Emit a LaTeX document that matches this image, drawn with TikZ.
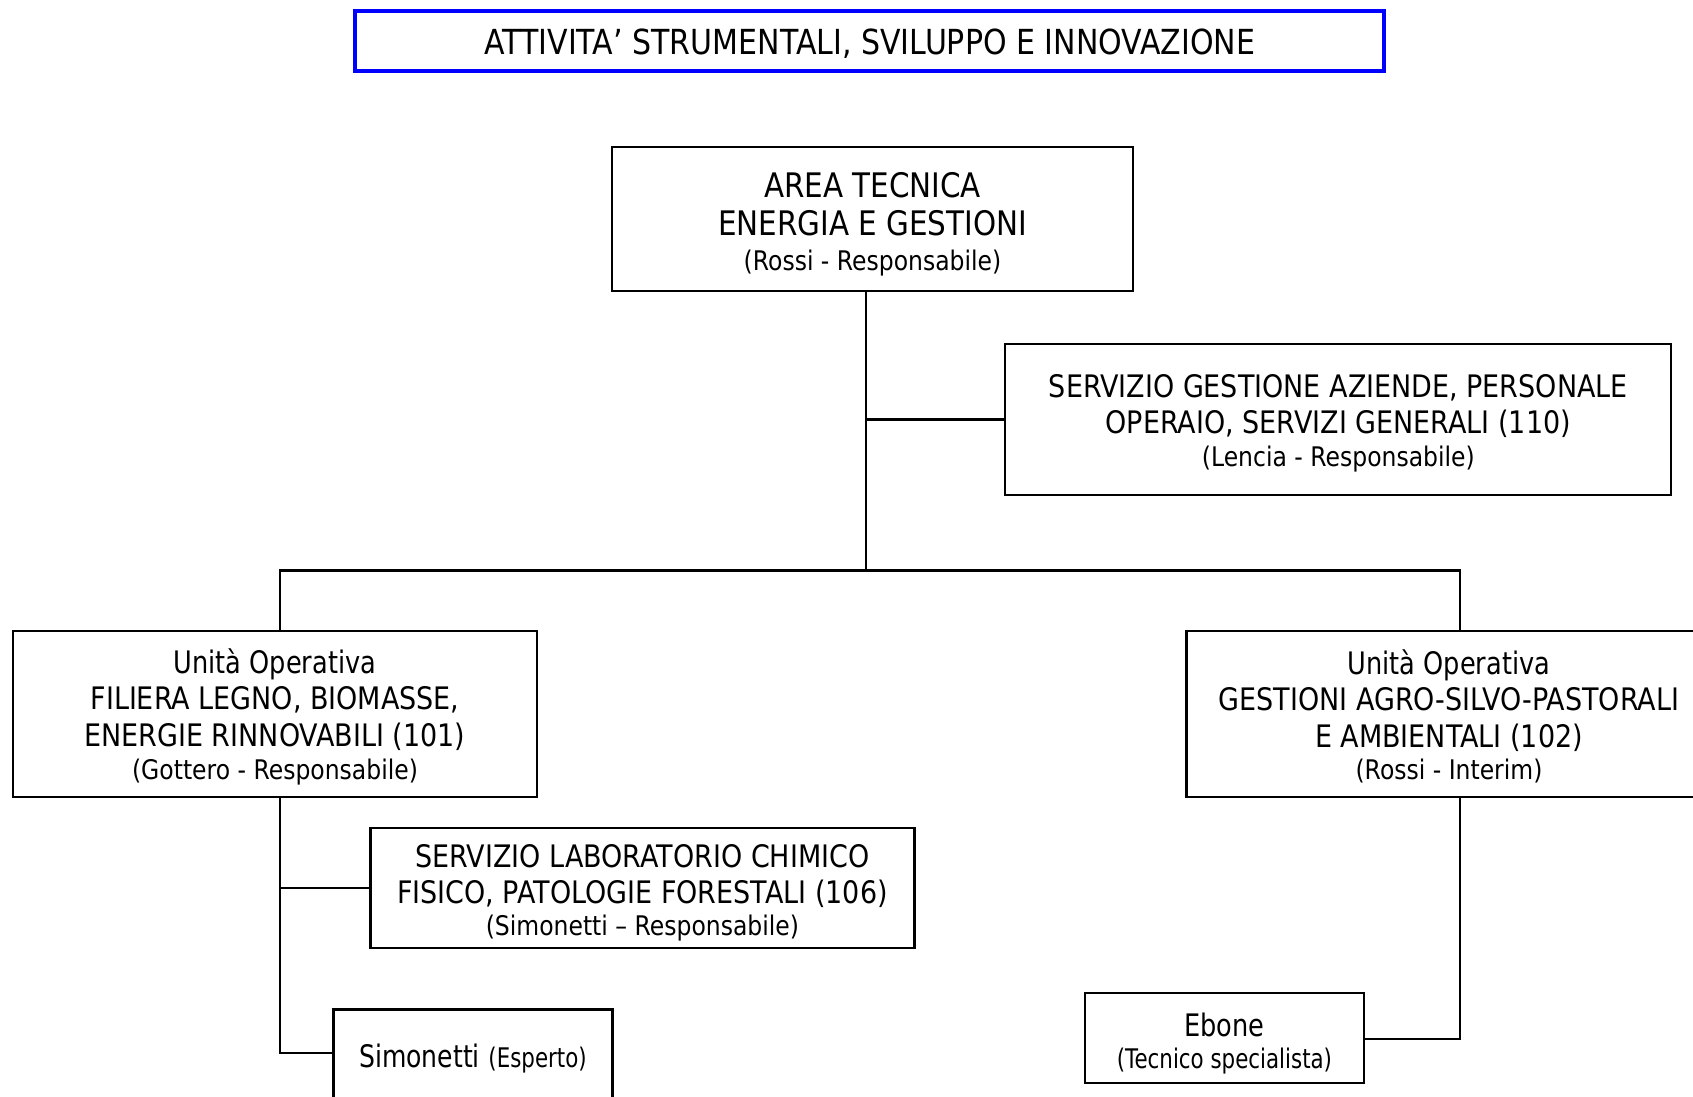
\documentclass[tikz,border=0pt]{standalone}
\usepackage{fontspec}
\setmainfont{DejaVu Sans}[FakeStretch=0.87]
\newcommand{\BigTxt}{\fontsize{31}{36.5}\selectfont}
\newcommand{\AreaTxt}{\fontsize{33.8}{37.8}\selectfont}
\newcommand{\SmTxt}{\fontsize{27}{32}\selectfont}
\newcommand{\TitleTxt}{\fontsize{34.5}{40}\selectfont}
\newcommand{\Dn}[1]{\rule{0pt}{#1}}
\newcommand{\Nar}[2]{\scalebox{#1}[1]{#2}}
\begin{document}
\begin{tikzpicture}[x=1pt,y=-1pt,
  box/.style={draw=black, line width=2.2pt, align=center, inner sep=0pt, font=\BigTxt},
  link/.style={draw=black, line width=2.2pt}]
\useasboundingbox (0,0) rectangle (1693,1096);
\clip (0,0) rectangle (1693,1096);
\fill[white] (0,0) rectangle (1693,1096);

\node[draw=blue, line width=4pt, minimum width=1029pt, minimum height=59.7pt, font=\TitleTxt, inner sep=0pt] (title) at (869.8,41.2) {\Dn{29.6pt}ATTIVITA’ STRUMENTALI, SVILUPPO E INNOVAZIONE};

\node[box, font=\AreaTxt, minimum width=521pt, minimum height=144pt] (area) at (872.5,219) {\Dn{35.4pt}AREA TECNICA\\ENERGIA E GESTIONI\\[-2.2pt]{\SmTxt (Rossi - Responsabile)}};

\node[box, minimum width=666pt, minimum height=150.7pt] (sga) at (1338.3,419.4) {\Dn{30.6pt}SERVIZIO GESTIONE AZIENDE, PERSONALE\\OPERAIO, SERVIZI GENERALI (110)\\[-3.5pt]{\SmTxt (Lencia - Responsabile)}};

\node[box, minimum width=524pt, minimum height=166pt] (uo1) at (275,713.7) {\Dn{30.2pt}\Nar{0.95}{Unità Operativa}\\FILIERA LEGNO, BIOMASSE,\\ENERGIE RINNOVABILI (101)\\[-3.5pt]{\SmTxt (Gottero - Responsabile)}};

\node[box, minimum width=525pt, minimum height=166pt] (uo2) at (1449,713.7) {\Dn{29.2pt}\Nar{0.95}{Unità Operativa}\\GESTIONI AGRO-SILVO-PASTORALI\\E AMBIENTALI (102)\\[-4.5pt]{\SmTxt (Rossi - Interim)}};

\node[box, minimum width=544pt, minimum height=120pt] (lab) at (642.4,888) {\Dn{32.6pt}SERVIZIO LABORATORIO CHIMICO\\FISICO, PATOLOGIE FORESTALI (106)\\[-4.5pt]{\SmTxt (Simonetti – Responsabile)}};

\node[box, minimum width=279pt, minimum height=94pt] (sim) at (473,1056.5) {\Dn{28pt}\Nar{0.93}{Simonetti} {\SmTxt\Nar{0.91}{(Esperto)}}};

\node[box, minimum width=279pt, minimum height=90pt] (ebo) at (1224.4,1038) {\Dn{34.4pt}\Nar{0.95}{Ebone}\\[-4.5pt]{\SmTxt\Nar{0.91}{(Tecnico specialista)}}};

\coordinate (tx) at (865.7,570.5);
\coordinate (busL) at (279.6,570.5);
\coordinate (busR) at (1459.7,570.5);
\coordinate (lx) at (279.6,1052.7);
\coordinate (rx) at (1459.7,1038.7);

\draw[link] (tx |- area.south) -- (tx);
\draw[link] (tx |- sga.west) -- (sga.west);
\draw[link] (busL |- uo1.north) -- (busL) -- (busR) -- (busR |- uo2.north);
\draw[link] (busL |- uo1.south) -- (lx) -- (lx -| sim.west);
\draw[link] (busL |- lab.west) -- (lab.west);
\draw[link] (busR |- uo2.south) -- (rx) -- (rx -| ebo.east);
\end{tikzpicture}
\end{document}
